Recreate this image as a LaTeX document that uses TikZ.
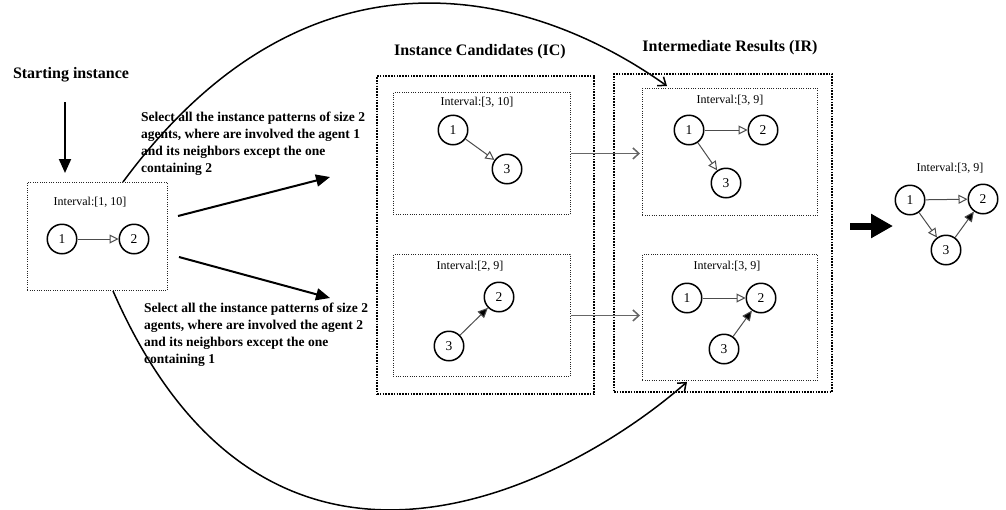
\documentclass[tikz,border=0pt]{standalone}
\usepackage{fontspec}
\setmainfont{Liberation Serif}
\usetikzlibrary{arrows.meta}

\begin{document}
\begin{tikzpicture}[x=1pt,y=-1pt,
  vertex/.style={circle,draw,line width=1.5pt,minimum size=29.5pt,inner sep=0pt,
    font=\fontsize{13.5}{13.5}\selectfont},
  frame/.style={draw=black!85,line width=0.9pt,dash pattern=on 1pt off 1.3pt,
    inner sep=0pt,anchor=north west},
  group/.style={draw,line width=2pt,dash pattern=on 1.6pt off 1.2pt,
    inner sep=0pt,anchor=north west},
  ilabel/.style={font=\fontsize{12}{12}\selectfont},
  heading/.style={font=\bfseries\fontsize{16}{16}\selectfont},
  note/.style={font=\bfseries\fontsize{13.5}{17}\selectfont,align=left,
    anchor=north west,inner sep=0pt},
  openedge/.style={draw=black!70,line width=1pt,
    -{Triangle[open,length=9pt,width=9pt]}},
  fulledge/.style={draw=black!70,line width=1pt,
    -{Triangle[length=10pt,width=9pt,fill=black]}},
  flow/.style={draw,line width=2pt,-{Triangle[length=14pt,width=12pt]}},
  pass/.style={draw=black!60,line width=1.5pt,
    -{Straight Barb[length=6pt,width=11pt]}},
  loop/.style={draw,line width=1.5pt,-{Straight Barb[length=7pt,width=11pt]}},
]
\useasboundingbox (0,0) rectangle (1006,509);

% headings
\node[heading] (hstart) at (71,75) {Starting instance};
\node[heading] (hic) at (480,52) {Instance Candidates (IC)};
\node[heading] (hir) at (730,48) {Intermediate Results (IR)};

% starting instance
\node[frame,minimum width=140pt,minimum height=108pt] (start) at (27,182) {};
\node[ilabel] (lstart) at (90,202) {Interval:[1, 10]};
\node[vertex] (s1) at (62,239) {1};
\node[vertex] (s2) at (134,239) {2};
\draw[openedge] (s1) -- (s2);

% instance candidates
\node[group,minimum width=217pt,minimum height=318pt] (ic) at (376,75) {};
\node[frame,minimum width=177pt,minimum height=122pt] (ictop) at (393,92) {};
\node[frame,minimum width=177pt,minimum height=122pt] (icbot) at (393,254) {};
\node[ilabel] (lictop) at (477,102) {Interval:[3, 10]};
\node[vertex] (a1) at (453,130) {1};
\node[vertex] (a3) at (507,169) {3};
\draw[openedge] (a1) -- (a3);
\node[ilabel] (licbot) at (470,266) {Interval:[2, 9]};
\node[vertex] (b2) at (499,297) {2};
\node[vertex] (b3) at (449,346) {3};
\draw[fulledge] (b3) -- (b2);

% intermediate results
\node[group,minimum width=218pt,minimum height=318pt] (ir) at (613,73) {};
\node[frame,minimum width=175pt,minimum height=127pt] (irtop) at (642,88) {};
\node[frame,minimum width=175pt,minimum height=126pt] (irbot) at (642,254) {};
\node[ilabel] (lirtop) at (730,100) {Interval:[3, 9]};
\node[vertex] (c1) at (689,130) {1};
\node[vertex] (c2) at (763,130) {2};
\node[vertex] (c3) at (726,183) {3};
\draw[openedge] (c1) -- (c2);
\draw[openedge] (c1) -- (c3);
\node[ilabel] (lirbot) at (727,266) {Interval:[3, 9]};
\node[vertex] (d1) at (687,298) {1};
\node[vertex] (d2) at (761,298) {2};
\node[vertex] (d3) at (724,349) {3};
\draw[openedge] (d1) -- (d2);
\draw[fulledge] (d3) -- (d2);

% final result
\node[ilabel] (lres) at (950,168) {Interval:[3, 9]};
\node[vertex] (r1) at (910,200) {1};
\node[vertex] (r2) at (983,199) {2};
\node[vertex] (r3) at (946,250) {3};
\draw[openedge] (r1) -- (r2);
\draw[openedge] (r1) -- (r3);
\draw[fulledge] (r3) -- (r2);

% explanatory notes
\node[note] (n1) at (141,112) {Select all the instance patterns of size 2\\
agents, where are involved the agent 1\\
and its neighbors except the one\\
containing 2};
\node[note] (n2) at (144,303) {Select all the instance patterns of size 2\\
agents, where are involved the agent 2\\
and its neighbors except the one\\
containing 1};

% arrow ends
\coordinate (downtop) at (65,102);
\coordinate (downend) at (65,173);
\coordinate (up1) at (178,216);
\coordinate (up2) at (330,177);
\coordinate (lo1) at (179,257);
\coordinate (lo2) at (330,298);
\coordinate (big1) at (850,226);
\coordinate (big2) at (893,226);

\draw[flow] (downtop) -- (downend);
\draw[flow] (up1) -- (up2);
\draw[flow] (lo1) -- (lo2);

% candidates passed on to the results
\draw[pass,shorten >=2pt] (ictop.east) -- (ictop.east -| irtop.west);
\draw[pass,shorten >=2pt] (icbot.east) -- (icbot.east -| irbot.west);

% long arcs from the starting instance
\draw[loop] ([xshift=96pt]start.north west) .. controls (310,-72) and (535,-8) ..
  ([xshift=25pt,yshift=2pt]irtop.north west);
\draw[loop] ([xshift=86pt]start.south west) .. controls (270,650) and (573,482) ..
  ([xshift=45pt,yshift=-1pt]irbot.south west);

% final arrow
\draw[line width=7pt,-{Triangle[length=22pt,width=23pt]}] (big1) -- (big2);
\end{tikzpicture}
\end{document}
